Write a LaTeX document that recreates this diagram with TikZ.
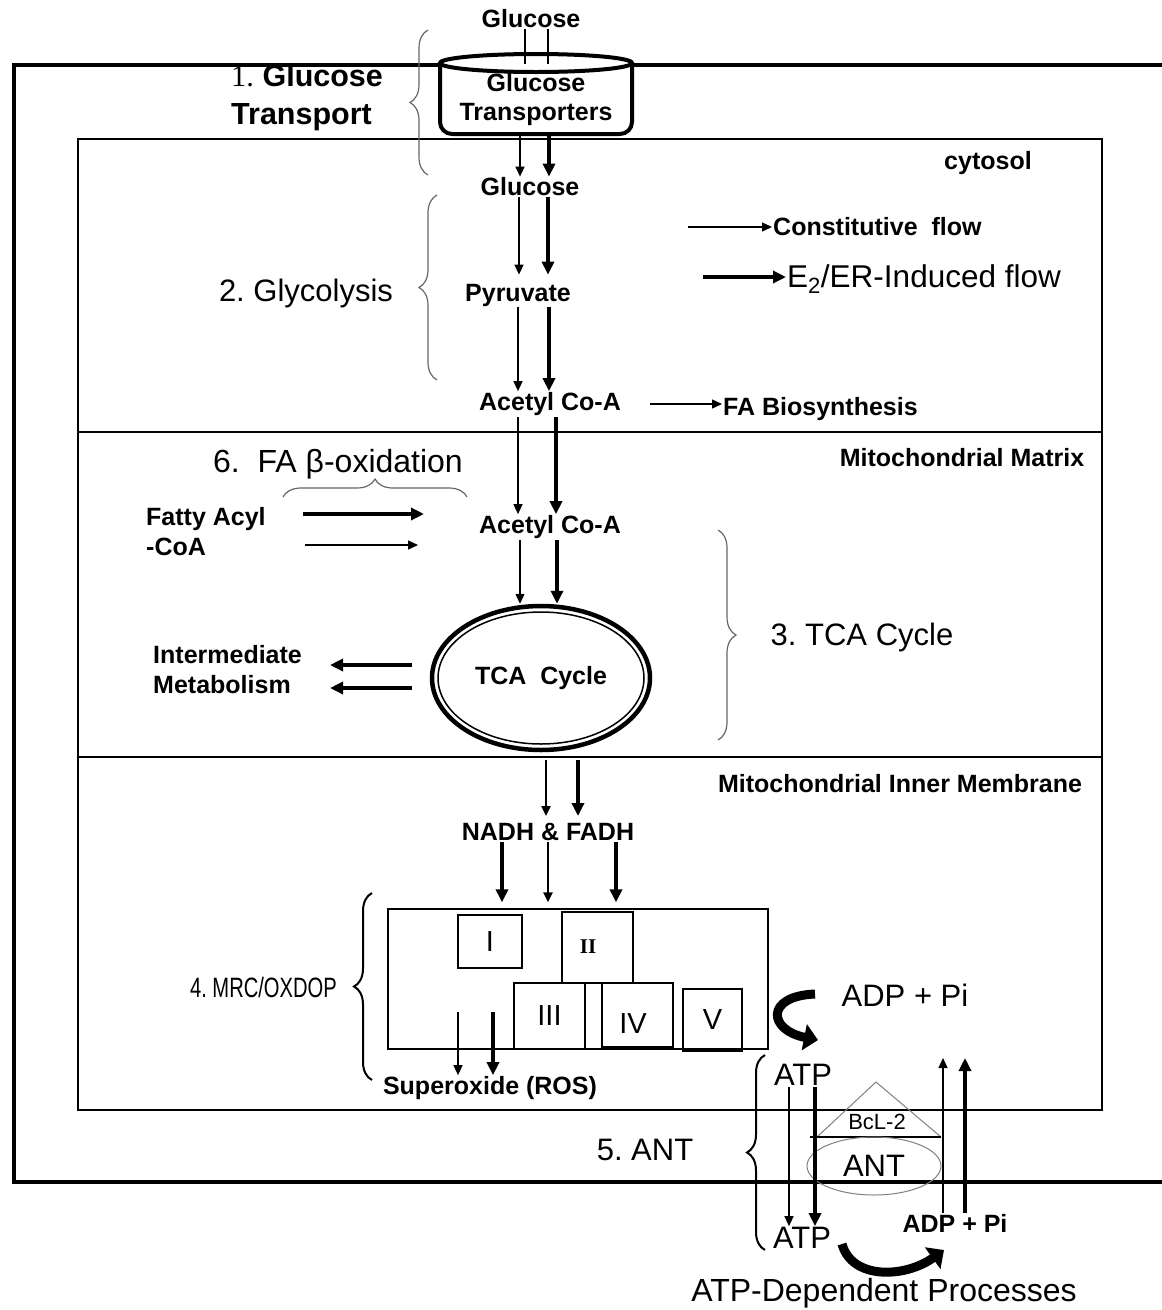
\documentclass[tikz,border=0pt]{standalone}
\usepackage{fontspec}
\setmainfont{Liberation Sans}
\newfontfamily\serifnum{Liberation Serif}
\usetikzlibrary{arrows.meta,positioning,shapes.geometric,decorations.pathreplacing,calc}
\frenchspacing

\begin{document}
\begin{tikzpicture}[x=1pt, y=-1pt,
    every node/.style={align=center, inner sep=1pt},
    lbl/.style={font=\bfseries\fontsize{25}{30}\selectfont},
    big/.style={font=\fontsize{31}{38}\selectfont},
    cplx/.style={draw, line width=1.5pt, inner sep=0pt, font=\fontsize{29}{30}\selectfont},
    thinflow/.style={-{Triangle[length=10pt,width=9pt]}, line width=1.4pt},
    thickflow/.style={-{Triangle[length=13pt,width=12pt]}, line width=3.8pt},
    brc/.style={decorate, decoration={brace, amplitude=18pt}, line width=1.2pt, black!60},
    turn/.style={line width=9pt, -{Triangle[length=14pt,width=26pt]}}
]
\useasboundingbox (0,0) rectangle (1162,1310);
\fill[white] (0,0) rectangle (1162,1310);

% cell outline, cytosol and the mitochondrial compartments
\draw[line width=3.5pt] (1162,65) -- (14,65) -- (14,1182) -- (1162,1182);
\draw[line width=1.3pt] (78,139) rectangle (1102,1110);
\draw[line width=1.3pt] (78,432) -- (1102,432);
\draw[line width=1.3pt] (78,757) -- (1102,757);

% 1. glucose transport
\node[lbl] (glc0) at (531,19) {Glucose};
\draw[line width=4pt, fill=white, rounded corners=12pt] (440,63) -- (440,134) -- (632,134) -- (632,63);
\draw[line width=4pt, fill=white] (536,63) ellipse [x radius=96, y radius=9];
\coordinate (glutlid) at (536,64);
\coordinate (glutbot) at (536,132);
\draw[line width=2pt] (525,0 |- glc0.south) -- (525,0 |- glutlid);
\draw[line width=2pt] (548,0 |- glc0.south) -- (548,0 |- glutlid);
\node[lbl, font=\bfseries\fontsize{25}{29}\selectfont] (glut) at (536,100) {Glucose\\Transporters};
\node[font=\bfseries\fontsize{30.5}{38}\selectfont, align=left, anchor=west] (gtlbl) at (230,98) {{\serifnum\mdseries 1.} Glucose\\Transport};
\draw[brc] (428,175) -- (428,30);

\node[lbl] (glc1) at (530,187) {Glucose};
\draw[thinflow] (520,0 |- glutbot) -- (520,0 |- glc1.north);
\draw[thickflow] (549,0 |- glutbot) -- (549,0 |- glc1.north);
\node[lbl] (cyto) at (988,163) {cytosol};

% 2. glycolysis
\node[lbl] (pyr) at (518,295) {Pyruvate};
\node[lbl] (acoa1) at (550,404) {Acetyl Co-A};
\draw[thinflow, shorten >=8pt] (519,0 |- glc1.south) -- (519,0 |- pyr.north);
\draw[thickflow, shorten >=8pt] (548,0 |- glc1.south) -- (548,0 |- pyr.north);
\draw[thinflow] (518,0 |- pyr.south) -- (518,0 |- acoa1.north);
\draw[thickflow] (549,0 |- pyr.south) -- (549,0 |- acoa1.north);
\draw[brc] (437,380) -- (437,195);
\node[big] (glyco) at (306,293) {2. Glycolysis};
\node[lbl, anchor=west] (fabio) at (722,409) {FA Biosynthesis};
\draw[thinflow, shorten <=28pt] (acoa1.east) -- (acoa1.east -| fabio.west);

% legend
\node[lbl, anchor=west] (constflow) at (772,227) {Constitutive\ \ flow};
\coordinate (constkey) at (688,227);
\draw[thinflow] (constkey) -- (constflow.west);
\node[font=\fontsize{31.5}{34}\selectfont, anchor=west] (e2flow) at (786,279) {E\textsubscript{2}/ER-Induced flow};
\coordinate (e2key) at (703,277);
\draw[thickflow] (e2key) -- (e2key -| e2flow.west);

% mitochondrial matrix: FA oxidation and TCA cycle
\node[lbl] (matrix) at (962,458) {Mitochondrial Matrix};
\node[lbl] (acoa2) at (550,527) {Acetyl Co-A};
\draw[thinflow] (518,0 |- acoa1.south) -- (518,0 |- acoa2.north);
\draw[thickflow] (556,0 |- acoa1.south) -- (556,0 |- acoa2.north);
\node[font=\fontsize{32}{38}\selectfont] (betaox) at (338,464) {6.\ \ FA β-oxidation};
\draw[brc] (283,497) -- (467,497);
\node[lbl, align=left, anchor=west] (facoa) at (145,532) {Fatty Acyl\\-CoA};
\coordinate (fain1) at (303,514);
\coordinate (faout1) at (424,514);
\coordinate (fain2) at (305,545);
\coordinate (faout2) at (418,545);
\draw[thickflow] (fain1) -- (faout1);
\draw[thinflow] (fain2) -- (faout2);

\node[draw, ellipse, line width=4.5pt, minimum width=218pt, minimum height=144pt, lbl] (tca) at (541,678) {TCA\ \ Cycle};
\draw[line width=1.5pt] (tca.center) ellipse [x radius=103, y radius=66];
\draw[thinflow] (520,0 |- acoa2.south) -- (520,0 |- tca.north);
\draw[thickflow] (557,0 |- acoa2.south) -- (557,0 |- tca.north);

\node[lbl, align=left, anchor=west] (inter) at (152,670) {Intermediate\\Metabolism};
\coordinate (interin) at (330,665);
\draw[thickflow, shorten <=18pt] (tca.west |- 0,665) -- (interin);
\draw[thickflow, shorten <=18pt] (tca.west |- 0,688) -- (interin |- 0,688);
\draw[brc] (718,530) -- (718,740);
\node[big] (tcalbl) at (862,637) {3. TCA Cycle};

% inner membrane: respiratory chain
\node[lbl] (innermem) at (900,784) {Mitochondrial Inner Membrane};
\node[lbl] (nadh) at (548,832) {NADH \& FADH};
\draw[thinflow, line width=2.2pt, shorten <=8pt, shorten >=6pt] (546,0 |- tca.south) -- (546,0 |- nadh.north);
\draw[thickflow, shorten <=8pt, shorten >=6pt] (578,0 |- tca.south) -- (578,0 |- nadh.north);

\node[draw, line width=1.3pt, minimum width=380pt, minimum height=140pt, inner sep=0pt] (mrc) at (578,979) {};
\draw[thickflow, shorten >=6pt] (502,0 |- nadh.south) -- (502,0 |- mrc.north);
\draw[thinflow, line width=2.4pt, shorten >=6pt] (548,0 |- nadh.south) -- (548,0 |- mrc.north);
\draw[thickflow, shorten >=6pt] (616,0 |- nadh.south) -- (616,0 |- mrc.north);

\node[cplx, minimum width=64pt, minimum height=53pt] (c1) at (490,941.5) {I};
\node[cplx, minimum width=71pt, minimum height=71pt] (c2) at (597.5,947.5) {};
\node[font=\serifnum\bfseries\fontsize{21}{24}\selectfont] (c2txt) at (588,947) {II};
\node[cplx, minimum width=71pt, minimum height=66pt] (c3) at (549.5,1016) {III};
\node[cplx, minimum width=17pt, minimum height=66pt] (cgap) at (593.5,1016) {};
\node[cplx, minimum width=71pt, minimum height=64pt] (c4) at (637.5,1015) {};
\node[font=\fontsize{29}{30}\selectfont] (c4txt) at (633,1024) {IV};
\node[cplx, minimum width=59pt, minimum height=62pt] (c5) at (712.5,1020) {V};

\node[lbl] (ros) at (490,1088) {Superoxide (ROS)};
\coordinate (rosout) at (475,1012);
\draw[thinflow] (458,0 |- rosout) -- (458,0 |- ros.north);
\draw[thickflow] (493,0 |- rosout) -- (493,0 |- ros.north);
\draw[brc, black, line width=2pt] (372,1080) -- (372,893);
\node[font=\fontsize{28}{34}\selectfont, anchor=east] (mrclbl) at (338,987) {\scalebox{0.72}[1]{4. MRC/OXDOP}};

% 5. ANT and ATP use
\node[big] (adp1) at (905,995) {ADP + Pi};
\node[big] (atp1) at (803,1075) {ATP};
\coordinate (recycle1) at (815,994);
\coordinate (recycle2) at (818,1040);
\draw[turn] (recycle1) .. controls (765,996) and (768,1030) .. (recycle2);

\draw[gray, line width=1pt] (817,1137) -- (876,1082) -- (941,1137);
\draw[line width=1.3pt] (810,1137) -- (941,1137);
\node[font=\fontsize{22}{24}\selectfont] (bcl) at (877,1122) {BcL-2};
\node[draw=gray, ellipse, line width=1pt, minimum width=134pt, minimum height=58pt, big] (ant) at (874,1166) {ANT};

\node[big] (atp2) at (802,1238) {ATP};
\draw[thinflow] (789,0 |- atp1.south) -- (789,0 |- atp2.north);
\draw[thickflow] (815,0 |- atp1.south) -- (815,0 |- atp2.north);

\node[lbl] (adp2) at (955,1223) {ADP + Pi};
\coordinate (adpin) at (955,1058);
\draw[thinflow] (943,0 |- adp2.north) -- (943,0 |- adpin);
\draw[thickflow] (965,0 |- adp2.north) -- (965,0 |- adpin);

\draw[brc, black, line width=2pt] (765,1250) -- (765,1055);
\node[big] (antlbl) at (645,1150) {5. ANT};

\coordinate (spend1) at (842,1244);
\coordinate (spend2) at (944,1250);
\draw[turn] (spend1) .. controls (852,1280) and (905,1278) .. (spend2);
\node[font=\fontsize{32}{36}\selectfont] (atpdep) at (884,1293) {ATP-Dependent Processes};
\end{tikzpicture}
\end{document}
